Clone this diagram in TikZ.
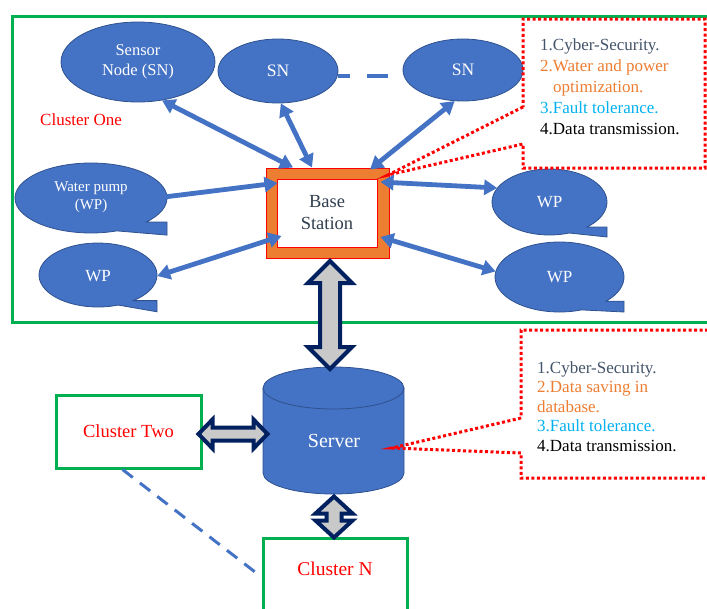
\documentclass[tikz,border=0pt]{standalone}
\usepackage{fontspec}
\setmainfont{Liberation Serif}
\usetikzlibrary{arrows.meta,calc,shapes.geometric}
\definecolor{nodeblue}{HTML}{4472C4}
\definecolor{nodeedge}{HTML}{2F528F}
\definecolor{framegreen}{HTML}{00B050}
\definecolor{navy}{HTML}{002060}
\definecolor{arrgray}{HTML}{C9C9C9}
\definecolor{bsorange}{HTML}{ED7D31}
\definecolor{slate}{HTML}{44546A}
\definecolor{cyantext}{HTML}{00B0F0}
\definecolor{bstext}{HTML}{323F4F}
\newcommand\fs[2]{\fontsize{#1}{#2}\selectfont}
% speech-bubble oval: cx, cy (image y), a, b, top fraction, tip fraction
\newcommand\bubble[6]{%
  \pgfmathsetmacro\bubang{-asin(#5)}%
  \filldraw[bubfill] ({#1+#3*sqrt(1-#5*#5)},{-#2-#4*#5})
    arc[start angle=\bubang, end angle=290, x radius=#3pt, y radius=#4pt]
    -- ({#1+#3},{-#2-#4*#6}) -- ({#1+#3},{-#2-#4*#5}) -- cycle;}
% vertical double block arrow: x, top y (image), length, head half width, shaft half width, head length
\newcommand\vblock[6]{%
  \filldraw[blockarr] (#1,-#2) -- ++(#4,-#6) -- ++({#5-#4},0) -- ++(0,{-(#3-2*#6)})
    -- ++({#4-#5},0) -- ++(-#4,-#6) -- ++(-#4,#6) -- ++({#4-#5},0)
    -- ++(0,{#3-2*#6}) -- ++({#5-#4},0) -- cycle;}
% horizontal double block arrow: left x, y (image), length, head half height, shaft half height, head length
\newcommand\hblock[6]{%
  \filldraw[blockarr] (#1,-#2) -- ++(#6,#4) -- ++(0,{#5-#4}) -- ++({#3-2*#6},0)
    -- ++(0,{#4-#5}) -- ++(#6,-#4) -- ++(-#6,-#4) -- ++(0,{#4-#5})
    -- ++({-(#3-2*#6)},0) -- ++(0,{#5-#4}) -- cycle;}
\tikzset{
  snode/.style={ellipse, draw=nodeedge, line width=0.8pt, fill=nodeblue, text=white, align=center, inner sep=0},
  bubtext/.style={ellipse, inner sep=0, text=white, align=center},
  bubfill/.style={draw=nodeedge, line width=0.8pt, fill=nodeblue},
  link/.style={draw=nodeblue, line width=4.8pt, >={Triangle[width=15pt,length=13pt]}},
  blockarr/.style={draw=navy, fill=arrgray, line width=4pt, line join=miter},
  clusterbox/.style={draw=framegreen, line width=3pt, fill=white, inner sep=0, text=red},
  callout/.style={draw=red, line width=3pt, dash pattern=on 3pt off 2.5pt},
  infotext/.style={anchor=north west, align=left, inner sep=0, text=black}
}
\begin{document}
\begin{tikzpicture}[x=1pt,y=1pt]
\useasboundingbox (0,0) rectangle (707,-608);
% cluster one frame
\draw[framegreen, line width=3pt] (12,-16) rectangle (730,-322);
\node[text=red, font=\fs{17}{20}, anchor=west, inner sep=0] (c1label) at (40,-120) {Cluster One};
% sensor nodes
\node[snode, minimum width=154, minimum height=80, font=\fs{16.5}{20}] (sn1) at (138,-62) {Sensor\\Node (SN)};
\node[snode, minimum width=120, minimum height=64, font=\fs{17.5}{20}] (sn2) at (278,-71) {SN};
\node[snode, minimum width=120, minimum height=62, font=\fs{17.5}{20}] (sn3) at (463,-70) {SN};
% water pumps
\bubble{91}{198}{76}{35}{0.686}{1.06}
\node[bubtext, minimum width=152, minimum height=70, font=\fs{15}{18}] (wp1) at (91,-197) {Water pump\\(WP)};
\bubble{98}{275}{59}{32}{0.8}{1.15}
\node[bubtext, minimum width=118, minimum height=64, font=\fs{17}{20}] (wp2) at (98,-276) {WP};
\bubble{549.5}{202}{57.5}{33}{0.76}{1.06}
\node[bubtext, minimum width=115, minimum height=66, font=\fs{17}{20}] (wp3) at (549.5,-202) {WP};
\bubble{559.5}{277}{64.5}{35}{0.69}{1.0}
\node[bubtext, minimum width=129, minimum height=70, font=\fs{17}{20}] (wp4) at (559.5,-277) {WP};
% base station
\node[draw=red, line width=1pt, fill=bsorange, minimum width=123, minimum height=90, inner sep=0] (bs) at (327.5,-213) {};
\node[draw=red, line width=1pt, fill=white, minimum width=100, minimum height=68, inner sep=0, text=bstext, align=center, font=\fs{18.5}{22}] (bsin) at (327,-213) {Base\\Station};
% server
\filldraw[fill=nodeblue, draw=nodeedge, line width=0.8pt] (263,-388) -- (263,-473)
  arc[start angle=180, end angle=360, x radius=70.5pt, y radius=21pt] -- (404,-388)
  arc[start angle=0, end angle=180, x radius=70.5pt, y radius=21pt] -- cycle;
\draw[nodeedge, line width=0.8pt] (263,-388) arc[start angle=180, end angle=360, x radius=70.5pt, y radius=21pt];
\node[text=white, font=\fs{20}{24}, inner sep=0] (srv) at (334,-441) {Server};
% other clusters
\node[clusterbox, minimum width=145, minimum height=73, font=\fs{18.5}{22}] (c2) at (128.5,-431.5) {Cluster Two};
\node[clusterbox, minimum width=144, minimum height=90] (cN) at (335,-583) {};
\node[text=red, font=\fs{19.5}{22}, inner sep=0] (cNlabel) at (335,-569) {Cluster N};
% callouts
\draw[callout] (523,-107) -- (388,-175) -- (523,-144) -- (523,-168) -- (705,-168) -- (705,-19) -- (523,-19) -- cycle;
\draw[callout] (521,-418) -- (392,-448) -- (521,-453) -- (521,-478) -- (730,-478) -- (730,-330) -- (521,-330) -- cycle;
\node[infotext, font=\fs{17}{21}] (info1) at (540,-39) {%
\textcolor{slate}{1.Cyber-Security.}\\
\textcolor{bsorange}{2.Water and power}\\
\hspace*{13pt}\textcolor{bsorange}{optimization.}\\
\textcolor{cyantext}{3.Fault tolerance.}\\
4.Data transmission.};
\node[infotext, font=\fs{17}{19.5}] (info2) at (537,-361) {%
\textcolor{slate}{1.Cyber-Security.}\\
\textcolor{bsorange}{2.Data saving in}\\
\textcolor{bsorange}{database.}\\
\textcolor{cyantext}{3.Fault tolerance.}\\
4.Data transmission.};
% blue links
\draw[link, <->] (sn1.-58) -- ([xshift=-34.5pt]bs.north);
\draw[link, <->] (sn2.-85) -- ([xshift=-15.5pt]bs.north);
\draw[link, <->] (sn3.-105) -- ([shift={(42.5,-2)}]bs.north);
\draw[link, ->] ([xshift=-3pt]wp1.east) -- ([shift={(12,30)}]bs.west);
\draw[link, <->] (wp2.east) -- ([shift={(16,-23)}]bs.west);
\draw[link, <->] (wp3.165) -- ([shift={(-9,31)}]bs.east);
\draw[link, <->] (wp4.175) -- ([shift={(-9,-24)}]bs.east);
\draw[draw=nodeblue, line width=4pt, dash pattern=on 12pt off 17pt on 21pt off 40pt] ([yshift=-5pt]sn2.east) -- ([yshift=-6pt]sn3.west);
\draw[draw=nodeblue, line width=3pt, dash pattern=on 13pt off 9pt] ([xshift=-6pt]c2.south) -- ([yshift=6pt]cN.west);
% block arrows
\vblock{330}{261}{108}{22}{10}{22}
\hblock{198.5}{434}{69}{14.5}{6.5}{14}
\vblock{334}{496.5}{41}{18.5}{7.5}{17}
\end{tikzpicture}
\end{document}
